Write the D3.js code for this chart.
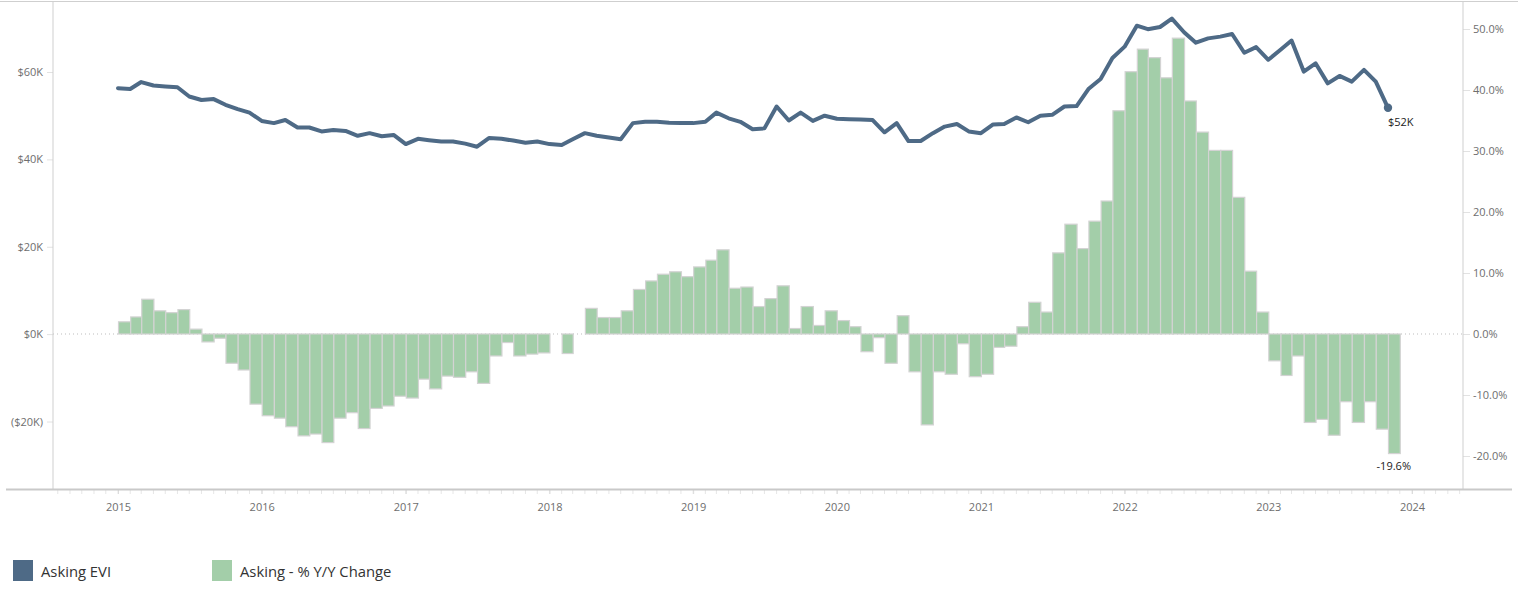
<!DOCTYPE html>
<html>
<head>
<meta charset="utf-8">
<script src="https://cdn.jsdelivr.net/npm/d3@7"></script>
<style>
  html, body { margin: 0; padding: 0; background: #fff; }
  svg { display: block; font-family: "Open Sans", "DejaVu Sans", sans-serif; }
</style>
</head>
<body>
<svg id="chart" width="1518" height="592"></svg>
<script>
// Monthly series, Jan 2015 – Nov 2023
const firstMonth = new Date(2015, 0, 1);
const lastMonth = new Date(2023, 10, 1);

// Asking EVI, thousands of dollars
const askingEVI = [
  56.3, 56.1, 57.7, 56.9, 56.7, 56.5, 54.4, 53.6, 53.8, 52.5, 51.5, 50.7,
  48.8, 48.3, 49.0, 47.3, 47.3, 46.4, 46.7, 46.5, 45.4, 46.0, 45.3, 45.6,
  43.5, 44.7, 44.4, 44.1, 44.1, 43.6, 42.9, 44.9, 44.7, 44.3, 43.8, 44.1,
  43.5, 43.3, 44.6, 46.0, 45.4, 45.0, 44.6, 48.3, 48.6, 48.6, 48.4, 48.3,
  48.3, 48.6, 50.7, 49.4, 48.6, 46.9, 47.1, 52.1, 48.9, 50.7, 48.8, 50.0,
  49.3, 49.2, 49.1, 49.0, 46.2, 48.3, 44.2, 44.2, 46.0, 47.5, 48.1, 46.4,
  46.0, 48.0, 48.1, 49.6, 48.5, 50.0, 50.2, 52.1, 52.2, 56.1, 58.4, 63.2,
  65.8, 70.6, 69.8, 70.3, 72.2, 69.1, 66.7, 67.7, 68.1, 68.7, 64.4, 65.7,
  62.8, 65.1, 67.2, 60.1, 62.0, 57.4, 59.1, 57.8, 60.5, 57.8, 51.8
];

// Asking - % Y/Y Change, percent
const askingYoY = [
  2.0, 2.8, 5.7, 3.8, 3.5, 4.0, 0.8, -1.3, -0.7, -4.8, -5.9, -11.5,
  -13.4, -13.8, -15.2, -16.7, -16.4, -17.8, -13.8, -12.9, -15.5, -12.2, -11.8, -10.2,
  -10.5, -7.4, -9.0, -6.9, -7.1, -6.2, -8.1, -3.6, -1.4, -3.6, -3.3, -3.1,
  0.0, -3.2, 0.0, 4.2, 2.7, 2.7, 3.8, 7.3, 8.7, 9.8, 10.2, 9.4,
  11.0, 12.1, 13.8, 7.5, 7.7, 4.5, 5.8, 7.9, 0.9, 4.5, 1.4, 3.8,
  2.2, 1.2, -2.9, -0.6, -4.8, 3.0, -6.2, -14.9, -6.2, -6.6, -1.6, -7.0,
  -6.6, -2.2, -2.0, 1.2, 5.2, 3.6, 13.3, 18.0, 14.0, 18.5, 21.8, 36.6,
  43.0, 46.7, 45.3, 42.0, 48.5, 38.2, 33.1, 30.1, 30.1, 22.4, 10.3, 3.6,
  -4.4, -6.8, -3.6, -14.5, -14.0, -16.6, -11.1, -14.5, -11.1, -15.6, -19.6
];

// Axis ticks
const leftTicks = [-20000, 0, 20000, 40000, 60000];
const rightTicks = [-0.2, -0.1, 0, 0.1, 0.2, 0.3, 0.4, 0.5];
const yearTicks = [2015, 2016, 2017, 2018, 2019, 2020, 2021, 2022, 2023, 2024];

const seriesNames = ["Asking EVI", "Asking - % Y/Y Change"];
const lineColor = "#4e6a86";
const barColor = "#a3cea9";
const barStroke = "#d3d3d3";
const axisColor = "#cfcfcf";
const tickText = "#6e6e6e";

const months = d3.timeMonth.range(firstMonth, d3.timeMonth.offset(lastMonth, 1));
const data = months.map((m, i) => ({ date: m, evi: askingEVI[i] * 1000, yoy: askingYoY[i] / 100 }));

const svg = d3.select("#chart");
const W = 1518;
const plot = { left: 53, right: 1463, top: 2, bottom: 489 };

const x = d3.scaleTime()
  .domain([new Date(2015, 0, 1), new Date(2024, 0, 1)])
  .range([118, 1412]);
const yL = d3.scaleLinear().domain([-20000, 60000]).range([421.5, 72]);
const yR = d3.scaleLinear().domain([-0.2, 0.5]).range([456, 29]);

// frame lines
svg.append("line")
  .attr("x1", 0).attr("x2", W).attr("y1", 1.5).attr("y2", 1.5)
  .attr("stroke", axisColor).attr("stroke-width", 1);

// zero reference
svg.append("line")
  .attr("x1", plot.left).attr("x2", plot.right)
  .attr("y1", yR(0)).attr("y2", yR(0))
  .attr("stroke", "#bdbdbd").attr("stroke-width", 1)
  .attr("stroke-dasharray", "1,3");

// bars
svg.append("g").selectAll("rect")
  .data(data)
  .join("rect")
  .attr("x", d => x(d.date) + 0.5)
  .attr("width", d => x(d3.timeMonth.offset(d.date, 1)) - x(d.date))
  .attr("y", d => Math.min(yR(d.yoy), yR(0)))
  .attr("height", d => Math.abs(yR(d.yoy) - yR(0)))
  .attr("fill", barColor)
  .attr("stroke", barStroke)
  .attr("stroke-width", 1.2);

// line
const line = d3.line().x(d => x(d.date)).y(d => yL(d.evi));
svg.append("path")
  .datum(data)
  .attr("d", line)
  .attr("fill", "none")
  .attr("stroke", lineColor)
  .attr("stroke-width", 4)
  .attr("stroke-linejoin", "round")
  .attr("stroke-linecap", "round");

const last = data[data.length - 1];
svg.append("circle")
  .attr("cx", x(last.date)).attr("cy", yL(last.evi))
  .attr("r", 4.2).attr("fill", lineColor);

svg.append("text")
  .attr("x", x(last.date)).attr("y", yL(last.evi) + 18)
  .attr("font-size", 11).attr("fill", "#222")
  .text(`$${Math.round(last.evi / 1000)}K`);

svg.append("text")
  .attr("x", x(d3.timeMonth.offset(last.date, 1)) - 6)
  .attr("y", yR(last.yoy) + 16)
  .attr("text-anchor", "middle")
  .attr("font-size", 11).attr("fill", "#222")
  .text(`${(last.yoy * 100).toFixed(1)}%`);

// left axis
const fmtMoney = v => v < 0 ? `($${-v / 1000}K)` : `$${v / 1000}K`;
const gL = svg.append("g")
  .attr("transform", `translate(${plot.left},0)`)
  .call(d3.axisLeft(yL).tickValues(leftTicks).tickFormat(fmtMoney).tickSize(6).tickPadding(4));
gL.select(".domain").remove();
gL.selectAll(".tick line").attr("stroke", "#e2e2e2");
gL.selectAll("text").attr("fill", tickText).attr("font-size", 11)
  .attr("font-family", "Open Sans, sans-serif");
svg.append("line")
  .attr("x1", plot.left).attr("x2", plot.left).attr("y1", plot.top).attr("y2", plot.bottom)
  .attr("stroke", axisColor);

// right axis
const fmtPct = v => `${(v * 100).toFixed(1)}%`;
const gR = svg.append("g")
  .attr("transform", `translate(${plot.right},0)`)
  .call(d3.axisRight(yR).tickValues(rightTicks).tickFormat(fmtPct).tickSize(7).tickPadding(3));
gR.select(".domain").remove();
gR.selectAll(".tick line").attr("stroke", "#e2e2e2");
gR.selectAll("text").attr("fill", tickText).attr("font-size", 11)
  .attr("font-family", "Open Sans, sans-serif");
svg.append("line")
  .attr("x1", plot.right).attr("x2", plot.right).attr("y1", plot.top).attr("y2", plot.bottom)
  .attr("stroke", axisColor);

// bottom axis: monthly minor ticks, yearly labels
const monthTicks = d3.timeMonth.range(x.invert(plot.left + 4), x.invert(plot.right));
svg.append("g").selectAll("line")
  .data(monthTicks)
  .join("line")
  .attr("x1", d => x(d)).attr("x2", d => x(d))
  .attr("y1", plot.bottom + 1).attr("y2", plot.bottom + 5)
  .attr("stroke", "#e6e6e6");
const gX = svg.append("g")
  .attr("transform", `translate(0,${plot.bottom})`)
  .call(d3.axisBottom(x)
    .tickValues(yearTicks.map(y => new Date(y, 0, 1)))
    .tickFormat(d3.timeFormat("%Y")).tickSize(5).tickPadding(9));
gX.select(".domain").remove();
gX.selectAll(".tick line").attr("stroke", "#dcdcdc");
gX.selectAll("text").attr("fill", tickText).attr("font-size", 11)
  .attr("font-family", "Open Sans, sans-serif");
svg.append("line")
  .attr("x1", 6).attr("x2", 1512).attr("y1", plot.bottom + 0.5).attr("y2", plot.bottom + 0.5)
  .attr("stroke", "#c9c9c9").attr("stroke-width", 2);

// legend
const legend = svg.append("g").attr("transform", "translate(13,560)");
const items = legend.selectAll("g")
  .data(seriesNames)
  .join("g")
  .attr("transform", (d, i) => `translate(${i * 199},0)`);
items.append("rect")
  .attr("width", 20).attr("height", 21)
  .attr("fill", (d, i) => i === 0 ? lineColor : barColor);
items.append("text")
  .attr("x", 28).attr("y", 17)
  .attr("font-size", 14.8).attr("fill", "#333")
  .text(d => d);
</script>
</body>
</html>
